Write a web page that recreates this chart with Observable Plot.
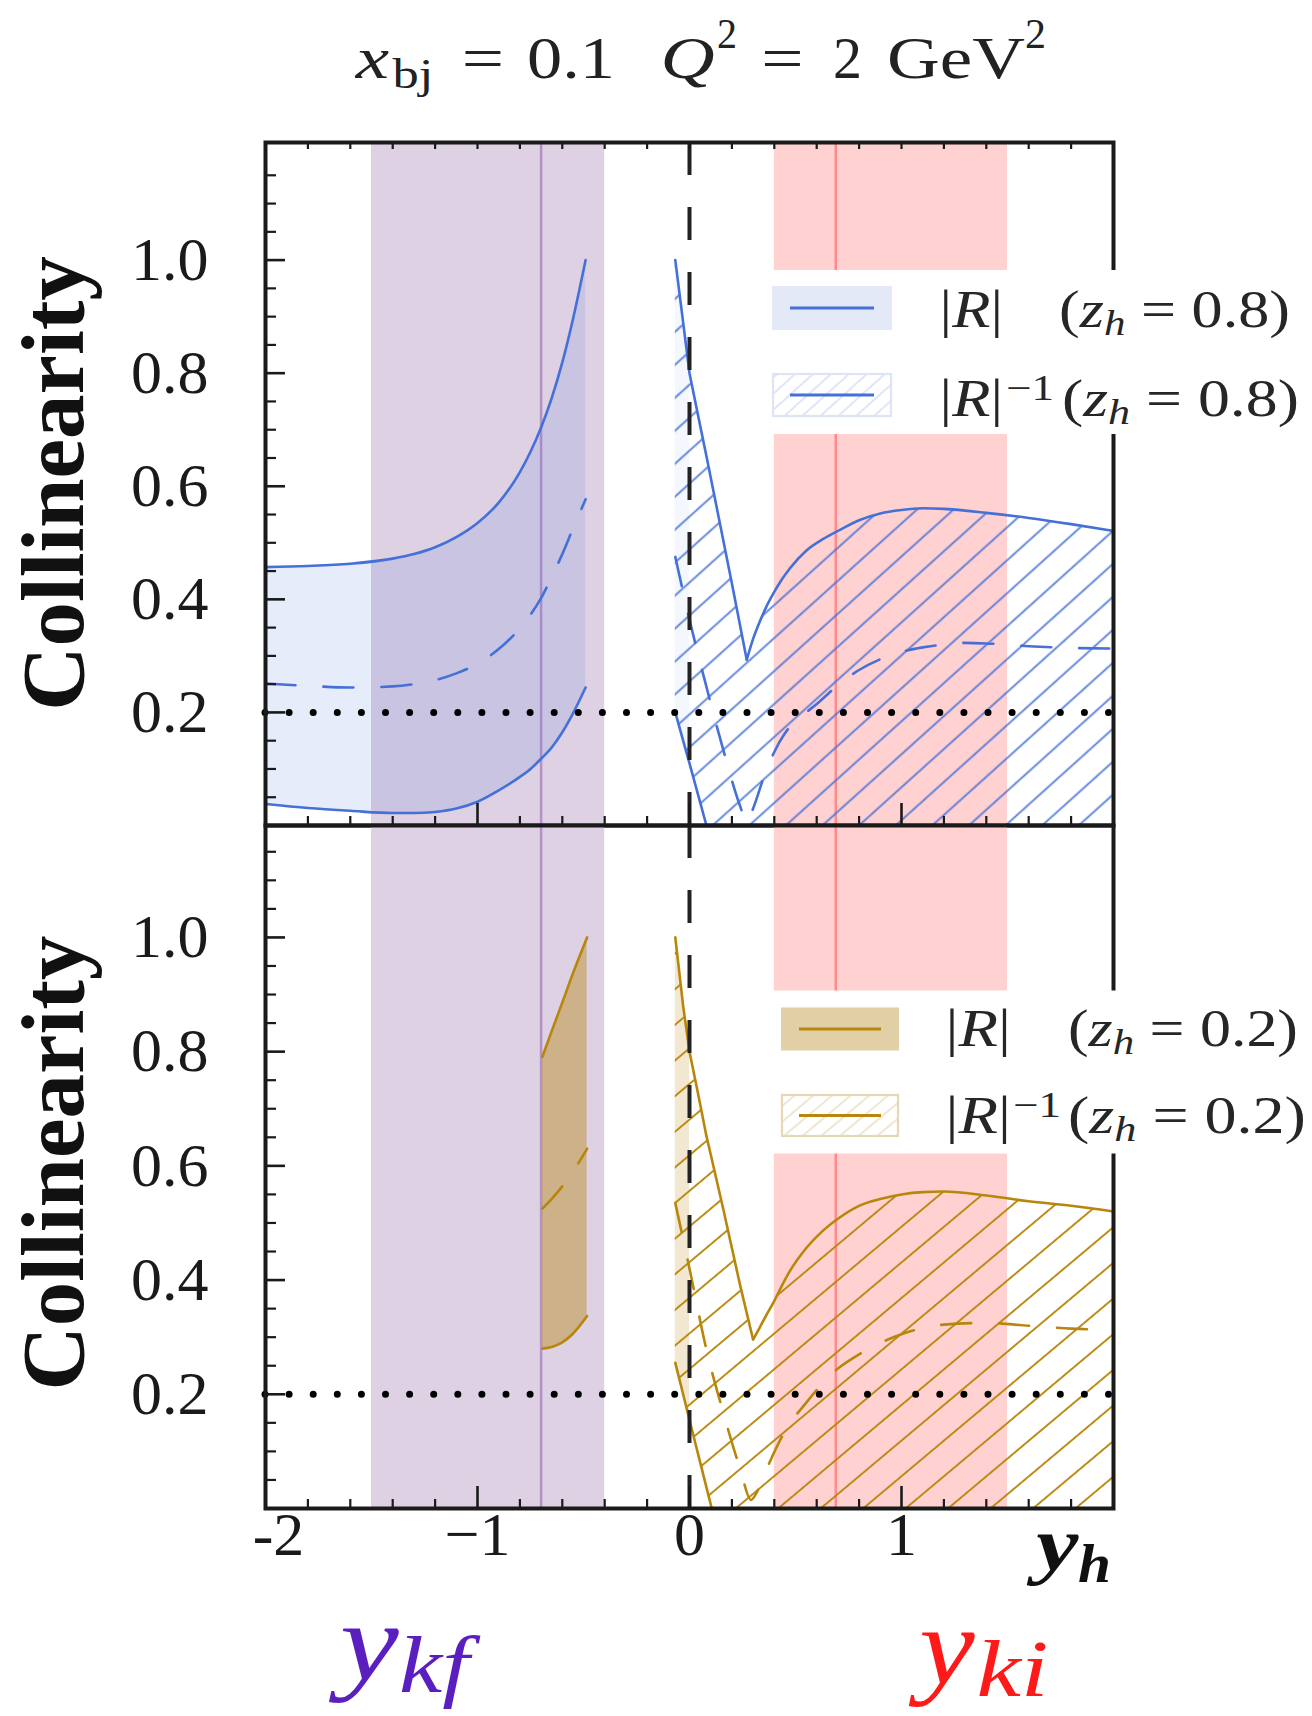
<!DOCTYPE html>
<html>
<head>
<meta charset="utf-8">
<script src="https://cdn.jsdelivr.net/npm/d3@7"></script>
<script src="https://cdn.jsdelivr.net/npm/@observablehq/plot@0.6"></script>
<style>
  html, body { margin: 0; padding: 0; background: #fff; }
  #root { position: relative; width: 1312px; height: 1716px; overflow: hidden; background: #fff; }
  #root > svg { position: absolute; left: 0; }
</style>
</head>
<body>
<div id="root"></div>
<script>
// ================= DATA =================
const bandKf = [-1.5, -0.4];   // y_kf region
const lineKf = -0.7;
const bandKi = [0.4, 1.5];     // y_ki region
const lineKi = 0.69;
const refLevel = 0.2;
const zeroLine = 0;

// z_h = 0.8 : backward branch (|R|)
const x08L   = [-2, -1.8, -1.6, -1.4, -1.3, -1.2, -1.1, -1.0, -0.9, -0.8, -0.75, -0.7, -0.65, -0.6, -0.55, -0.49];
const hi08L  = [0.457, 0.459, 0.463, 0.472, 0.48, 0.492, 0.51, 0.535, 0.571, 0.625, 0.661, 0.704, 0.756, 0.819, 0.895, 1.0];
const mid08L = [0.251, 0.247, 0.244, 0.246, 0.25, 0.257, 0.269, 0.286, 0.312, 0.349, 0.373, 0.402, 0.44, 0.48, 0.525, 0.577];
const lo08L  = [0.038, 0.031, 0.026, 0.022, 0.022, 0.024, 0.03, 0.042, 0.062, 0.086, 0.1, 0.118, 0.138, 0.165, 0.198, 0.244];

// z_h = 0.8 : forward branch (|R|^-1)
const x08R  = [-0.067, -0.03, 0, 0.04, 0.08, 0.127, 0.2, 0.27, 0.3, 0.333, 0.36, 0.395, 0.43, 0.474, 0.553, 0.631, 0.71, 0.8, 0.9, 1.0, 1.1, 1.2, 1.4, 1.6, 1.8, 2.0];
const hi08R = [1.0, 0.89, 0.80, 0.726, 0.653, 0.565, 0.428, 0.293, 0.33, 0.362, 0.385, 0.41, 0.432, 0.455, 0.487, 0.507, 0.523, 0.54, 0.552, 0.558, 0.561, 0.56, 0.553, 0.544, 0.533, 0.521];
const lo08R = [0.2, 0.15, 0.11, 0.055, 0, 0, 0, 0, 0, 0, 0, 0, 0, 0, 0, 0, 0, 0, 0, 0, 0, 0, 0, 0, 0, 0];
const xm08R = [-0.067, 0, 0.08, 0.16, 0.24, 0.27, 0.3, 0.35, 0.4, 0.45, 0.5, 0.55, 0.6, 0.7, 0.8, 0.9, 1.0, 1.1, 1.2, 1.3, 1.4, 1.6, 1.8, 2.0];
const m08R  = [0.475, 0.364, 0.245, 0.133, 0.033, 0.005, 0.03, 0.085, 0.13, 0.163, 0.185, 0.2, 0.215, 0.248, 0.275, 0.294, 0.307, 0.315, 0.32, 0.323, 0.322, 0.317, 0.314, 0.313];

// z_h = 0.2 : backward branch (|R|)
const x02L   = [-0.694, -0.65, -0.6, -0.55, -0.483];
const hi02L  = [0.791, 0.836, 0.886, 0.937, 1.0];
const mid02L = [0.525, 0.542, 0.564, 0.59, 0.63];
const lo02L  = [0.28, 0.283, 0.291, 0.306, 0.337];

// z_h = 0.2 : forward branch (|R|^-1)
const x02R  = [-0.067, -0.03, 0, 0.04, 0.08, 0.105, 0.16, 0.24, 0.30, 0.33, 0.36, 0.395, 0.43, 0.474, 0.553, 0.631, 0.71, 0.8, 0.9, 1.0, 1.1, 1.2, 1.4, 1.6, 1.8, 2.0];
const hi02R = [1.0, 0.88, 0.80, 0.727, 0.652, 0.612, 0.523, 0.389, 0.296, 0.316, 0.337, 0.36, 0.386, 0.416, 0.457, 0.487, 0.51, 0.53, 0.542, 0.55, 0.554, 0.555, 0.548, 0.538, 0.53, 0.52];
const lo02R = [0.255, 0.2, 0.155, 0.096, 0.037, 0, 0, 0, 0, 0, 0, 0, 0, 0, 0, 0, 0, 0, 0, 0, 0, 0, 0, 0, 0, 0];
const xm02R = [-0.067, 0, 0.08, 0.16, 0.24, 0.29, 0.32, 0.365, 0.45, 0.55, 0.7, 0.8, 1.0, 1.2, 1.4, 1.6, 1.8, 2.0];
const m02R  = [0.535, 0.42, 0.278, 0.167, 0.068, 0.015, 0.03, 0.07, 0.135, 0.185, 0.245, 0.27, 0.305, 0.322, 0.325, 0.32, 0.315, 0.313];

// ticks
const xMajorTicks = [-1, 0, 1];
const xMinorTicks = [-1.8, -1.6, -1.4, -1.2, -0.8, -0.6, -0.4, -0.2, 0.2, 0.4, 0.6, 0.8, 1.2, 1.4, 1.6, 1.8];
const yMajorTicks = [0.2, 0.4, 0.6, 0.8, 1.0];
const yMinorTicks = [0.05, 0.1, 0.15, 0.25, 0.3, 0.35, 0.45, 0.5, 0.55, 0.65, 0.7, 0.75, 0.85, 0.9, 0.95, 1.05, 1.1, 1.15];
const yTickLabels = ["0.2", "0.4", "0.6", "0.8", "1.0"];
const xTickValues = [-2, -1, 0, 1];
const xTickLabels = ["-2", "\u22121", "0", "1"];

// ================= STYLE / LAYOUT =================
const FONT = "'Liberation Serif', 'Times New Roman', serif";
const INK = "#1a1a1a";
const BLUE = "#4470d8";
const GOLD = "#b8860b";
const X0 = -2, X1 = 2;
const ML = 265, MR = 199;
const pxX = (1312 - ML - MR) / (X1 - X0);
const NS = "http://www.w3.org/2000/svg";

function addHatch(svg, id, color, p, angle, sw, opacity = 1) {
  let defs = svg.querySelector("defs");
  if (!defs) { defs = document.createElementNS(NS, "defs"); svg.insertBefore(defs, svg.firstChild); }
  const pat = document.createElementNS(NS, "pattern");
  pat.setAttribute("id", id);
  pat.setAttribute("patternUnits", "userSpaceOnUse");
  pat.setAttribute("width", p);
  pat.setAttribute("height", p);
  pat.setAttribute("patternTransform", `rotate(${90 - angle})`);
  const ln = document.createElementNS(NS, "line");
  ln.setAttribute("x1", p / 2); ln.setAttribute("x2", p / 2);
  ln.setAttribute("y1", -1); ln.setAttribute("y2", p + 1);
  ln.setAttribute("stroke", color);
  ln.setAttribute("stroke-width", sw);
  ln.setAttribute("stroke-opacity", opacity);
  pat.appendChild(ln);
  defs.appendChild(pat);
}

function panel(cfg) {
  const {ymax, height, mt, mb, color, fillOp, hatchId, L, R, M, topTicks, xLabels} = cfg;
  const pxY = (height - mt - mb) / ymax;
  const Lrows = L.x.map((x, i) => ({x, hi: L.hi[i], mid: L.mid[i], lo: L.lo[i]}));
  const Rrows = R.x.map((x, i) => ({x, hi: R.hi[i], lo: R.lo[i]}));
  const Mrows = M.x.map((x, i) => ({x, y: M.y[i]}));
  const near = Rrows.filter(d => d.x < 0.5);
  const k = d3.minIndex(near, d => d.hi);
  const desc = Rrows.slice(0, k + 1), rise = Rrows.slice(k);
  const z = Rrows.findIndex(d => d.lo === 0);
  const loLine = Rrows.slice(0, z + 1);
  const strip = Rrows.filter(d => d.x <= 0);
  const lineOpt = {x: "x", stroke: color, strokeWidth: 2.6};
  const dash = "30,28";

  const marks = [
    Plot.rect([bandKf], {x1: d => d[0], x2: d => d[1], y1: 0, y2: ymax, fill: "#ddd1e3"}),
    Plot.rect([bandKi], {x1: d => d[0], x2: d => d[1], y1: 0, y2: ymax, fill: "#ffd1d1"}),
    Plot.ruleX([lineKf], {x: d => d, stroke: "#b592c6", strokeWidth: 2.5}),
    Plot.ruleX([lineKi], {x: d => d, stroke: "#ff8a8a", strokeWidth: 2.5}),
    Plot.areaY(Lrows, {x: "x", y1: "lo", y2: "hi", fill: color, fillOpacity: fillOp, curve: "monotone-x"}),
    Plot.areaY(strip, {x: "x", y1: "lo", y2: "hi", fill: color, fillOpacity: fillOp * 0.45}),
    Plot.areaY(Rrows, {x: "x", y1: "lo", y2: "hi", fill: `url(#${hatchId})`}),
    Plot.line(Lrows, {...lineOpt, y: "hi", curve: "monotone-x"}),
    Plot.line(Lrows, {...lineOpt, y: "lo", curve: "monotone-x"}),
    Plot.line(Lrows, {...lineOpt, y: "mid", curve: "monotone-x", strokeDasharray: dash}),
    Plot.line(desc, {...lineOpt, y: "hi"}),
    Plot.line(rise, {...lineOpt, y: "hi", curve: "monotone-x"}),
    Plot.line(loLine, {...lineOpt, y: "lo"}),
    Plot.line(Mrows, {...lineOpt, y: "y", curve: "monotone-x", strokeDasharray: dash}),
    Plot.ruleX([zeroLine], {x: d => d, stroke: "#222", strokeWidth: 4, strokeDasharray: "33,32"}),
    Plot.ruleY([refLevel], {y: d => d, stroke: "#000", strokeWidth: 7, strokeDasharray: "0,24.1", strokeLinecap: "round"}),
    Plot.ruleY(yMajorTicks, {y: d => d, x1: X0, x2: X0 + 20 / pxX, stroke: INK, strokeWidth: 2.6}),
    Plot.ruleY(yMinorTicks, {y: d => d, x1: X0, x2: X0 + 11 / pxX, stroke: INK, strokeWidth: 2.2}),
    Plot.ruleX(xMajorTicks, {x: d => d, y1: 0, y2: 22 / pxY, stroke: INK, strokeWidth: 2.6}),
    Plot.ruleX(xMinorTicks, {x: d => d, y1: 0, y2: 9 / pxY, stroke: INK, strokeWidth: 2.2}),
  ];
  if (topTicks) {
    marks.push(Plot.ruleX([...xMajorTicks, ...xMinorTicks], {x: d => d, y1: ymax - 7 / pxY, y2: ymax, stroke: INK, strokeWidth: 2.2}));
  }
  marks.push(
    Plot.frame({stroke: INK, strokeWidth: 4}),
    Plot.text(yTickLabels, {y: (d, i) => yMajorTicks[i], text: d => d, frameAnchor: "left", textAnchor: "end",
      dx: -57, fontSize: 62, fontFamily: FONT, fill: INK}),
    Plot.text(["Collinearity"], {y: () => 0.605, text: d => d, frameAnchor: "left", textAnchor: "middle", rotate: -90,
      dx: -211, fontSize: 89, fontWeight: "bold", fontFamily: FONT, fill: "#111"})
  );
  if (xLabels) {
    marks.push(
      Plot.text(xTickLabels.slice(1), {x: (d, i) => xTickValues[i + 1], text: d => d, frameAnchor: "bottom",
        dy: 46, fontSize: 62, fontFamily: FONT, fill: INK}),
      Plot.text(xTickLabels.slice(0, 1), {x: (d, i) => xTickValues[i], text: d => d, frameAnchor: "bottom",
        dx: 13, dy: 46, fontSize: 62, fontFamily: FONT, fill: INK})
    );
  }
  return Plot.plot({
    width: 1312, height, marginLeft: ML, marginRight: MR, marginTop: mt, marginBottom: mb,
    x: {domain: [X0, X1], axis: null},
    y: {domain: [0, ymax], axis: null},
    style: {background: "transparent", overflow: "visible", fontFamily: FONT},
    marks
  });
}

const root = document.getElementById("root");

const topSvg = panel({
  ymax: 1.208, height: 825, mt: 142, mb: 0, color: BLUE, fillOp: 0.13, hatchId: "hatch08",
  L: {x: x08L, hi: hi08L, mid: mid08L, lo: lo08L},
  R: {x: x08R, hi: hi08R, lo: lo08R},
  M: {x: xm08R, y: m08R},
  topTicks: true, xLabels: false
});
addHatch(topSvg, "hatch08", BLUE, 24.5, 42, 1.8, 0.9);
topSvg.style.top = "0px";
root.appendChild(topSvg);

const botSvg = panel({
  ymax: 1.196, height: 891, mt: 0, mb: 208, color: GOLD, fillOp: 0.42, hatchId: "hatch02",
  L: {x: x02L, hi: hi02L, mid: mid02L, lo: lo02L},
  R: {x: x02R, hi: hi02R, lo: lo02R},
  M: {x: xm02R, y: m02R},
  topTicks: false, xLabels: true
});
addHatch(botSvg, "hatch02", GOLD, 27.3, 40, 2.0, 0.95);
botSvg.style.top = "825px";
root.appendChild(botSvg);

// ================= OVERLAY: title, legends, labels =================
const ov = d3.create("svg").attr("width", 1312).attr("height", 1716)
  .attr("viewBox", "0 0 1312 1716")
  .style("top", "0px").style("pointer-events", "none").style("overflow", "visible");
root.appendChild(ov.node());
addHatch(ov.node(), "leg08", "#c9d5f2", 12, 42, 1.2, 1);
addHatch(ov.node(), "leg02", "#e6d6b0", 12, 40, 1.2, 1);

function seg({x0, x1, y, size = 52, parts, fill = "#262626"}) {
  const t = ov.append("text").attr("x", 0).attr("y", y).attr("fill", fill)
    .attr("font-family", FONT).attr("font-size", size).style("white-space", "pre");
  let cur = 0;
  for (const p of parts) {
    const ts = t.append("tspan").text(p.t);
    if (p.italic) ts.attr("font-style", "italic");
    if (p.bold) ts.attr("font-weight", "bold");
    if (p.size) ts.attr("font-size", p.size);
    const want = p.dy || 0;
    if (want !== cur) ts.attr("dy", want - cur);
    cur = want;
  }
  const bb = t.node().getBBox();
  let sx = (x1 - x0) / bb.width;
  sx = Math.max(0.8, Math.min(1.25, sx));
  const tx = (x0 + x1) / 2 - sx * (bb.x + bb.width / 2);
  t.attr("transform", `translate(${tx},0) scale(${sx},1)`);
}

const TT = "#222";
seg({x0: 350, x1: 394, y: 78, size: 60, fill: TT, parts: [{t: "x", italic: true}]});
seg({x0: 392, x1: 434, y: 88, size: 42, fill: TT, parts: [{t: "bj"}]});
seg({x0: 460, x1: 506, y: 78, size: 60, fill: TT, parts: [{t: "="}]});
seg({x0: 527, x1: 615, y: 78, size: 60, fill: TT, parts: [{t: "0.1"}]});
seg({x0: 657, x1: 718, y: 78, size: 60, fill: TT, parts: [{t: "Q", italic: true}]});
seg({x0: 717, x1: 737, y: 48, size: 42, fill: TT, parts: [{t: "2"}]});
seg({x0: 757, x1: 808, y: 78, size: 60, fill: TT, parts: [{t: "="}]});
seg({x0: 833, x1: 862, y: 78, size: 60, fill: TT, parts: [{t: "2"}]});
seg({x0: 887, x1: 1025, y: 78, size: 60, fill: TT, parts: [{t: "GeV"}]});
seg({x0: 1025, x1: 1046, y: 48, size: 42, fill: TT, parts: [{t: "2"}]});

function legend({bx, by, bh, sx, s1y, s2y, sh, sw, color, swFill, swStroke, hatch, b1, b2, tx, zval}) {
  ov.append("rect").attr("x", bx).attr("y", by).attr("width", 1312 - bx + 2).attr("height", bh).attr("fill", "#fff");
  ov.append("rect").attr("x", sx).attr("y", s1y).attr("width", sw).attr("height", sh).attr("fill", swFill);
  ov.append("line").attr("x1", sx + 18).attr("x2", sx + sw - 18).attr("y1", s1y + sh / 2).attr("y2", s1y + sh / 2)
    .attr("stroke", color).attr("stroke-width", 3);
  ov.append("rect").attr("x", sx + 1).attr("y", s2y + 1).attr("width", sw - 2).attr("height", sh - 2).attr("fill", "#fff");
  ov.append("rect").attr("x", sx + 1).attr("y", s2y + 1).attr("width", sw - 2).attr("height", sh - 2)
    .attr("fill", `url(#${hatch})`).attr("stroke", swStroke).attr("stroke-width", 2.2);
  ov.append("line").attr("x1", sx + 18).attr("x2", sx + sw - 18).attr("y1", s2y + sh / 2).attr("y2", s2y + sh / 2)
    .attr("stroke", color).attr("stroke-width", 3);
  const absR = [{t: "|"}, {t: "R", italic: true}, {t: "|"}];
  const paren = [{t: "("}, {t: "z", italic: true}, {t: "h", italic: true, size: 36, dy: 8}, {t: " = " + zval + ")", dy: 0}];
  seg({x0: tx[0], x1: tx[1], y: b1, parts: absR});
  seg({x0: tx[2], x1: tx[3], y: b1, parts: paren});
  seg({x0: tx[0], x1: tx[1], y: b2, parts: absR});
  seg({x0: tx[4], x1: tx[5], y: b2 - 16, size: 36, parts: [{t: "\u22121"}]});
  seg({x0: tx[6], x1: tx[7], y: b2, parts: paren});
}
legend({bx: 770, by: 270, bh: 164, sx: 772, s1y: 286, s2y: 373, sh: 44, sw: 120, color: BLUE,
  swFill: "#e3e9f7", swStroke: "#dce4f6", hatch: "leg08", b1: 327, b2: 416,
  tx: [939.6, 1003, 1059, 1290, 1006, 1054, 1062, 1299], zval: "0.8"});
legend({bx: 769.5, by: 990.5, bh: 163, sx: 781, s1y: 1007.5, s2y: 1094, sh: 43, sw: 118, color: GOLD,
  swFill: "#e1cfa6", swStroke: "#e6d8b6", hatch: "leg02", b1: 1046, b2: 1133,
  tx: [945.5, 1011, 1068, 1298, 1012, 1062, 1068, 1306], zval: "0.2"});

seg({x0: 1026, x1: 1079, y: 1570, size: 76, fill: "#111", parts: [{t: "y", italic: true, bold: true}]});
seg({x0: 1078, x1: 1111, y: 1582, size: 54, fill: "#111", parts: [{t: "h", italic: true, bold: true}]});
seg({x0: 328, x1: 399, y: 1680, size: 110, fill: "#5b1fc0", parts: [{t: "y", italic: true}]});
seg({x0: 399, x1: 481, y: 1692, size: 80, fill: "#5b1fc0", parts: [{t: "kf", italic: true}]});
seg({x0: 908, x1: 975, y: 1684, size: 110, fill: "#ff1a1a", parts: [{t: "y", italic: true}]});
seg({x0: 975, x1: 1050, y: 1696, size: 80, fill: "#ff1a1a", parts: [{t: "ki", italic: true}]});
</script>
</body>
</html>
